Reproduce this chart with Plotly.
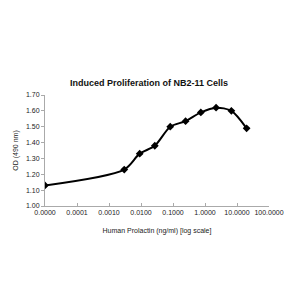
import plotly.graph_objects as go

conc = [0.00001, 0.0030, 0.0091, 0.027, 0.082, 0.247, 0.741, 2.22, 6.67, 20.0]
od = [1.13, 1.23, 1.33, 1.38, 1.50, 1.535, 1.59, 1.62, 1.60, 1.49]
tick_vals = [0.00001, 0.0001, 0.001, 0.01, 0.1, 1, 10, 100]
tick_text = ["0.0000", "0.0001", "0.0010", "0.0100", "0.1000", "1.0000", "10.0000", "100.0000"]
y_ticks = [1.0, 1.1, 1.2, 1.3, 1.4, 1.5, 1.6, 1.7]

fig = go.Figure(go.Scatter(
    x=conc, y=od, mode="lines+markers",
    line=dict(color="black", width=2, shape="spline", smoothing=0.8),
    marker=dict(symbol="diamond", size=6, color="black"),
))

fig.update_layout(
    width=300, height=300,
    margin=dict(l=45, r=31, t=95, b=94),
    paper_bgcolor="white", plot_bgcolor="white",
    showlegend=False,
    font=dict(family="Liberation Sans, Arial, sans-serif", color="#222", size=7),
    title=dict(text="<b>Induced Proliferation of NB2-11 Cells</b>",
               x=0.497, xanchor="center", y=1 - 83 / 300, yanchor="middle",
               font=dict(size=9, color="#111")),
    xaxis=dict(type="log", range=[-5, 2], tickvals=tick_vals, ticktext=tick_text,
               showgrid=False, showline=True, linecolor="#aaa", linewidth=1,
               ticks="inside", ticklen=3, tickcolor="#aaa", zeroline=False,
               tickfont=dict(size=7),
               title=dict(text="Human Prolactin (ng/ml) [log scale]", font=dict(size=7), standoff=12)),
    yaxis=dict(range=[1.0, 1.7], tickvals=y_ticks, tickformat=".2f",
               showgrid=False, showline=True, linecolor="#aaa", linewidth=1,
               ticks="outside", ticklen=3, tickcolor="#aaa", zeroline=False,
               tickfont=dict(size=7),
               title=dict(text="OD (490 nm)", font=dict(size=7), standoff=6)),
)

fig.write_html("out.html")
